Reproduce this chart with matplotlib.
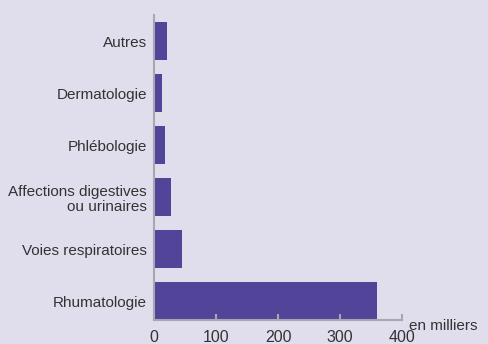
import matplotlib
matplotlib.use("Agg")
import matplotlib.pyplot as plt

categories = ["Rhumatologie", "Voies respiratoires", "Affections digestives\nou urinaires",
              "Phlébologie", "Dermatologie", "Autres"]
values = [360, 45, 27, 18, 13, 21]
xticks = [0, 100, 200, 300, 400]

bg = "#e0deed"
bar_color = "#524499"
text_color = "#333333"
axis_color = "#a8a6b0"

plt.rcParams["font.family"] = ["Liberation Sans", "DejaVu Sans"]

fig = plt.figure(figsize=(4.88, 3.44), dpi=100)
fig.patch.set_facecolor(bg)
ax = fig.add_axes([0.3156, 0.0698, 0.5082, 0.8862])
ax.set_facecolor(bg)

ypos = list(range(len(categories)))
ax.barh(ypos, values, height=0.73, color=bar_color)

ax.set_xlim(0, 400)
ax.set_ylim(-0.365, 5.5)
ax.set_yticks(ypos)
ax.set_yticklabels(categories, fontsize=11, color=text_color, linespacing=1.1)
ax.set_xticks(xticks)
ax.set_xticklabels([str(t) for t in xticks], fontsize=11.5, color=text_color)

ax.tick_params(axis="y", length=0, pad=5)
ax.tick_params(axis="x", direction="in", length=4, width=1.5, color=axis_color, pad=7)

for s in ["top", "right"]:
    ax.spines[s].set_visible(False)
for s in ["left", "bottom"]:
    ax.spines[s].set_color(axis_color)
    ax.spines[s].set_linewidth(1.5)

ax.text(1.03, -0.02, "en milliers", transform=ax.transAxes, fontsize=11,
        color=text_color, va="center", ha="left")

fig.savefig("out.png", dpi=100, facecolor=bg)
